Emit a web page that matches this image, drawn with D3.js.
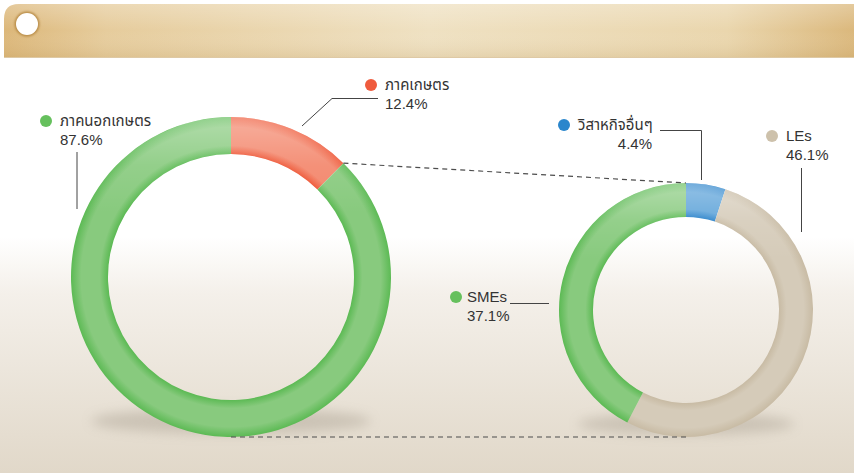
<!DOCTYPE html>
<html>
<head>
<meta charset="utf-8">
<script src="https://cdn.jsdelivr.net/npm/d3@7/dist/d3.min.js"></script>
<style>
  html, body { margin: 0; padding: 0; background: #fff; }
  svg { display: block; }
  text { font-family: "Liberation Sans", Arial, "Noto Sans Thai", sans-serif; fill: #333; font-size: 15px; }
</style>
</head>
<body>
<svg id="chart" width="854" height="473"></svg>
<script>
// Sector split of the whole portfolio
const mainCategories = ["ภาคเกษตร", "ภาคนอกเกษตร"];
const mainValues = [12.4, 87.6];
const mainColors = ["#ef5b3d", "#66c05d"];

// Breakdown of the non-agricultural share
const subCategories = ["วิสาหกิจอื่นๆ", "LEs", "SMEs"];
const subValues = [4.4, 46.1, 37.1];
const subColors = ["#2a86cc", "#cdc1ab", "#66c05d"];

const svg = d3.select("#chart");
const W = 854, H = 473;
const defs = svg.append("defs");

// Page background: white above, warm beige toward the bottom
const bg = defs.append("linearGradient").attr("id", "bg").attr("x1", 0).attr("y1", 0).attr("x2", 0).attr("y2", 1);
bg.append("stop").attr("offset", "0.5").attr("stop-color", "#ffffff");
bg.append("stop").attr("offset", "0.62").attr("stop-color", "#f4f0ea");
bg.append("stop").attr("offset", "1").attr("stop-color", "#e1d8c9");
svg.append("rect").attr("width", W).attr("height", H).attr("fill", "url(#bg)");

// Header band
const hb = defs.append("linearGradient").attr("id", "hb").attr("x1", 0).attr("y1", 0).attr("x2", 1).attr("y2", 0);
hb.append("stop").attr("offset", "0").attr("stop-color", "#dcb779");
hb.append("stop").attr("offset", "0.12").attr("stop-color", "#e6cc9c");
hb.append("stop").attr("offset", "0.5").attr("stop-color", "#efe1c2");
hb.append("stop").attr("offset", "0.85").attr("stop-color", "#ead6ad");
hb.append("stop").attr("offset", "1").attr("stop-color", "#dbb87c");
const hbShade = defs.append("linearGradient").attr("id", "hbShade").attr("x1", 0).attr("y1", 0).attr("x2", 0).attr("y2", 1);
hbShade.append("stop").attr("offset", "0").attr("stop-color", "#fff").attr("stop-opacity", 0.25);
hbShade.append("stop").attr("offset", "0.5").attr("stop-color", "#fff").attr("stop-opacity", 0);
hbShade.append("stop").attr("offset", "1").attr("stop-color", "#b08a4a").attr("stop-opacity", 0.15);

const bandPath = "M4,57 L4,19 Q4,4 19,4 L854,4 L854,57 Z";
svg.append("path").attr("d", bandPath).attr("fill", "url(#hb)");
svg.append("path").attr("d", bandPath).attr("fill", "url(#hbShade)");
svg.append("line").attr("x1", 4).attr("x2", 854).attr("y1", 57.5).attr("y2", 57.5).attr("stroke", "#c9a66a").attr("stroke-width", 1).attr("opacity", 0.6);

const holeShadow = defs.append("filter").attr("id", "holeBlur").attr("x", "-50%").attr("y", "-50%").attr("width", "200%").attr("height", "200%");
holeShadow.append("feGaussianBlur").attr("stdDeviation", 1.2);
svg.append("circle").attr("cx", 27).attr("cy", 24).attr("r", 12.5).attr("fill", "#b88b45").attr("filter", "url(#holeBlur)");
svg.append("circle").attr("cx", 27).attr("cy", 24).attr("r", 11).attr("fill", "#ffffff");

// Soft ground shadows under the rings
const sh = defs.append("filter").attr("id", "shadowBlur").attr("x", "-30%").attr("y", "-100%").attr("width", "160%").attr("height", "300%");
sh.append("feGaussianBlur").attr("stdDeviation", 6);
svg.append("ellipse").attr("cx", 231).attr("cy", 421).attr("rx", 140).attr("ry", 13)
  .attr("fill", "#9a9080").attr("opacity", 0.35).attr("filter", "url(#shadowBlur)");
svg.append("ellipse").attr("cx", 686).attr("cy", 424).attr("rx", 108).attr("ry", 11)
  .attr("fill", "#9a9080").attr("opacity", 0.35).attr("filter", "url(#shadowBlur)");

// Tube-like shading: darker edges, lighter middle of the band
function tubeGradient(id, cx, cy, rIn, rOut, edge, mid) {
  const g = defs.append("radialGradient").attr("id", id)
    .attr("gradientUnits", "userSpaceOnUse").attr("cx", cx).attr("cy", cy).attr("r", rOut);
  const f = rIn / rOut;
  const m = (1 + f) / 2;
  g.append("stop").attr("offset", f).attr("stop-color", edge);
  g.append("stop").attr("offset", f + (m - f) * 0.45).attr("stop-color", mid);
  g.append("stop").attr("offset", m + (1 - m) * 0.45).attr("stop-color", mid);
  g.append("stop").attr("offset", 1).attr("stop-color", edge);
}
// Top highlight overlay
function topGloss(id, cy, r) {
  const g = defs.append("linearGradient").attr("id", id).attr("gradientUnits", "userSpaceOnUse")
    .attr("x1", 0).attr("x2", 0).attr("y1", cy - r).attr("y2", cy);
  g.append("stop").attr("offset", 0).attr("stop-color", "#fff").attr("stop-opacity", 0.35);
  g.append("stop").attr("offset", 0.3).attr("stop-color", "#fff").attr("stop-opacity", 0.1);
  g.append("stop").attr("offset", 0.6).attr("stop-color", "#fff").attr("stop-opacity", 0);
}

const shades = {
  "#ef5b3d": ["#ee5433", "#f3856a"],
  "#66c05d": ["#5cba54", "#88ca7e"],
  "#2a86cc": ["#2680c9", "#5aa1d8"],
  "#cdc1ab": ["#c8bba4", "#d5cbb9"]
};

function drawRing(name, cx, cy, rOut, rIn, cats, vals, cols) {
  const g = svg.append("g").attr("transform", `translate(${cx},${cy})`);
  const pie = d3.pie().sort(null).value(d => d.v);
  const arc = d3.arc().innerRadius(rIn).outerRadius(rOut);
  const data = pie(cats.map((c, i) => ({ c, v: vals[i], col: cols[i] })));
  data.forEach((d, i) => {
    const id = `${name}-${i}`;
    const s = shades[d.data.col];
    tubeGradient(id, 0, 0, rIn, rOut, s[0], s[1]);
    g.append("path").attr("d", arc(d)).attr("fill", `url(#${id})`);
  });
  topGloss(`${name}-gloss`, 0, rOut);
  g.append("path")
    .attr("d", d3.arc().innerRadius(rIn).outerRadius(rOut)({ startAngle: 0, endAngle: 2 * Math.PI }))
    .attr("fill", `url(#${name}-gloss)`);
  return data;
}

const L = { cx: 231, cy: 277, rOut: 160, rIn: 123 };
const R = { cx: 686, cy: 310, rOut: 127, rIn: 93 };

const mainArcs = drawRing("main", L.cx, L.cy, L.rOut, L.rIn, mainCategories, mainValues, mainColors);
const subArcs = drawRing("sub", R.cx, R.cy, R.rOut, R.rIn, subCategories, subValues, subColors);

// Connector lines between the agricultural split and the breakdown ring
const agriEnd = mainArcs[0].endAngle;
const p1 = [L.cx + L.rOut * Math.sin(agriEnd), L.cy - L.rOut * Math.cos(agriEnd)];
const dash = "5,4";
svg.append("line").attr("x1", p1[0]).attr("y1", p1[1]).attr("x2", R.cx).attr("y2", R.cy - R.rOut)
  .attr("stroke", "#4d4d4d").attr("stroke-width", 1.2).attr("stroke-dasharray", dash);
svg.append("line").attr("x1", L.cx).attr("y1", L.cy + L.rOut).attr("x2", R.cx).attr("y2", R.cy + R.rOut)
  .attr("stroke", "#4d4d4d").attr("stroke-width", 1.2).attr("stroke-dasharray", dash);

// Labels with leader lines
const fmt = d3.format(".1f");
function label(x, y, color, name, value, anchorValue, dotGap = 14) {
  svg.append("circle").attr("cx", x - dotGap).attr("cy", y - 5).attr("r", 6).attr("fill", color);
  svg.append("text").attr("x", x).attr("y", y).text(name);
  const t = svg.append("text").attr("y", y + 19).text(fmt(value) + "%");
  if (anchorValue != null) t.attr("x", anchorValue).attr("text-anchor", "end");
  else t.attr("x", x);
}
function leader(points) {
  svg.append("path").attr("d", d3.line()(points)).attr("fill", "none").attr("stroke", "#444").attr("stroke-width", 1);
}

label(60, 126, mainColors[1], mainCategories[1], mainValues[1]);
leader([[77, 152], [77, 209]]);

label(385, 90, mainColors[0], mainCategories[0], mainValues[0]);
leader([[378, 98.5], [332, 98.5], [302, 126]]);

label(578, 130, subColors[0], subCategories[0], subValues[0], 652);
leader([[660, 130.5], [701.5, 130.5], [701.5, 180]]);

label(786, 141, subColors[1], subCategories[1], subValues[1]);
leader([[801.5, 168], [801.5, 232]]);

label(467, 302, subColors[2], subCategories[2], subValues[2], null, 11);
leader([[510, 303.5], [549, 303.5]]);
</script>
</body>
</html>
